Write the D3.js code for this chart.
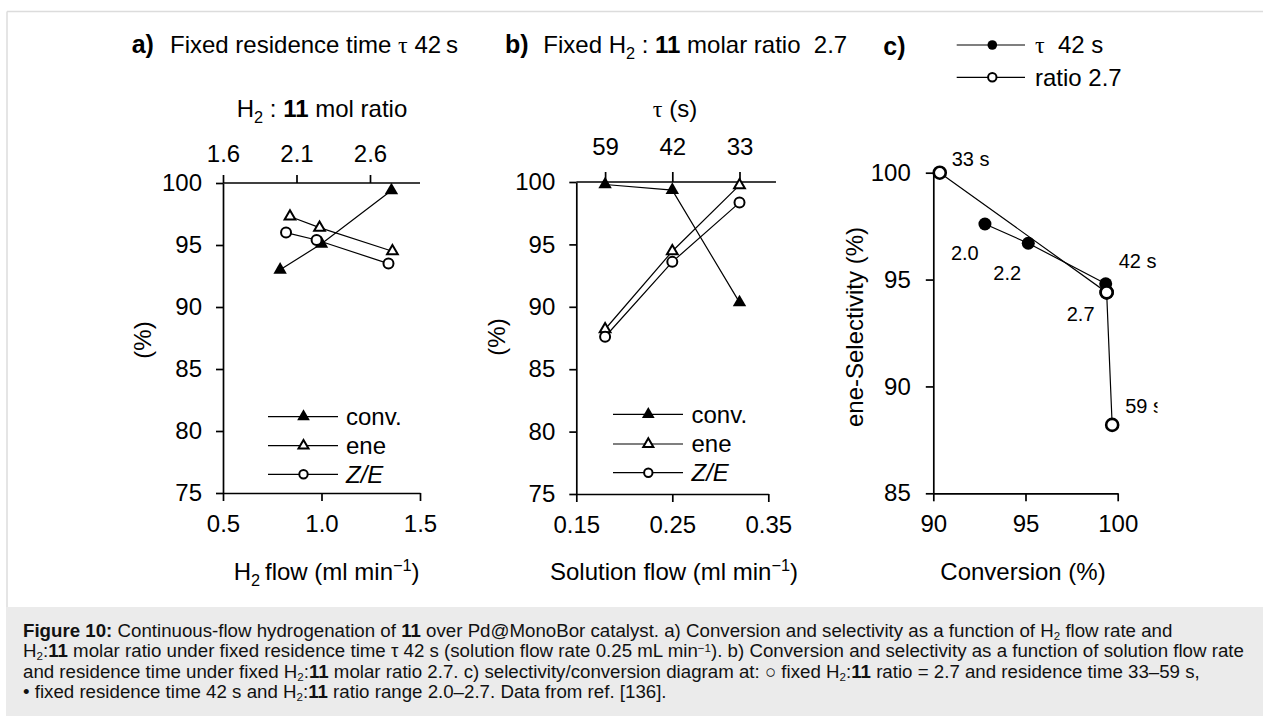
<!DOCTYPE html>
<html><head><meta charset="utf-8">
<script src="https://cdn.jsdelivr.net/npm/d3@7"></script>
<style>
html,body{margin:0;padding:0;background:#fff;}
svg{display:block;}
</style></head>
<body>
<script>
// ---------- DATA ----------
// Panel a: fixed residence time 42 s (x = H2 flow, ml/min)
const convA_x = [0.79, 1.0, 1.355];
const convA_y = [93.0, 95.1, 99.4];
const eneA_x = [0.84, 0.99, 1.36];
const eneA_y = [97.3, 96.4, 94.5];
const zeA_x = [0.82, 0.975, 1.34];
const zeA_y = [96.0, 95.4, 93.5];
const topTicksA = [1.6, 2.1, 2.6];           // H2:11 mol ratio
const bottomTicksA = [0.5, 1.0, 1.5];
// Panel b: fixed H2:11 ratio 2.7 (x = solution flow, ml/min)
const flowB = [0.18, 0.25, 0.32];
const convB = [99.8, 99.35, 90.35];
const eneB = [88.2, 94.45, 99.75];
const zeB = [87.6, 93.6, 98.35];
const tauLabelsB = ["59", "42", "33"];        // tau (s)
const bottomTicksB = [0.15, 0.25, 0.35];
const yTicksAB = [75, 80, 85, 90, 95, 100];
// Panel c: selectivity vs conversion
const tauFixConv = [92.8, 95.15, 99.35];      // tau 42 s, varying ratio
const tauFixSel = [97.6, 96.7, 94.8];
const tauFixLabels = ["2.0", "2.2", "2.7"];
const ratioFixConv = [90.35, 99.4, 99.7];     // ratio 2.7, varying tau
const ratioFixSel = [100.0, 94.4, 88.2];
const ratioFixLabels = ["33 s", "42 s", "59 s"];
const xTicksC = [90, 95, 100];
const yTicksC = [85, 90, 95, 100];
const legendAB = ["conv.", "ene", "Z/E"];
const legendC = ["τ  42 s", "ratio 2.7"];

// ---------- SETUP ----------
const W = 1263, H = 716;
const FONT = "'Liberation Sans', Arial, Helvetica, sans-serif";
const SERIF = "'Liberation Serif', 'DejaVu Serif', serif";
const FS = 24;
const svg = d3.select("body").append("svg").attr("width", W).attr("height", H)
  .attr("font-family", FONT).attr("font-size", FS);

// frame + caption background
svg.append("rect").attr("x", 0).attr("y", 0).attr("width", W).attr("height", H).attr("fill", "#fff");
svg.append("line").attr("x1", 7).attr("x2", W).attr("y1", 11.5).attr("y2", 11.5).attr("stroke", "#dcdcdc").attr("stroke-width", 1.5);
svg.append("line").attr("x1", 7).attr("x2", 7).attr("y1", 11.5).attr("y2", 607).attr("stroke", "#dcdcdc").attr("stroke-width", 1.5);
svg.append("rect").attr("x", 6).attr("y", 607).attr("width", W - 6).attr("height", H - 607).attr("fill", "#ebebeb");

function rich(t, parts, base, opt) {
  opt = opt || {};
  const subK = opt.sub != null ? opt.sub : 0.27;
  const supK = opt.sup != null ? opt.sup : 0.38;
  const szK = opt.size != null ? opt.size : 0.68;
  let shift = 0;
  parts.forEach(p => {
    const ts = t.append("tspan").text(p.t);
    const target = p.sub ? subK * base : p.sup ? -supK * base : 0;
    const dy = target - shift; shift = target;
    if (dy) ts.attr("dy", dy);
    if (p.sub || p.sup) ts.attr("font-size", base * szK);
    if (p.b) ts.attr("font-weight", "bold");
    if (p.i) ts.attr("font-style", "italic");
    if (p.serif) ts.attr("font-family", SERIF);
  });
  return t;
}
function txt(x, y, anchor, size) {
  return svg.append("text").attr("x", x).attr("y", y).attr("text-anchor", anchor || "start")
    .attr("font-size", size || FS).attr("fill", "#000");
}
function styleAxis(g, sw) {
  g.selectAll("path,line").attr("stroke", "#000").attr("stroke-width", sw || 1.7);
  g.selectAll("text").attr("font-family", FONT).attr("font-size", FS).attr("fill", "#000");
}

// symbols
const triFilled = d3.symbol(d3.symbolTriangle, 78)();
const triOpen = d3.symbol(d3.symbolTriangle, 50)();
function drawSeries(g, xs, ys, sx, sy, kind) {
  const pts = xs.map((x, i) => [sx(x), sy(ys[i])]);
  g.append("path").attr("d", d3.line()(pts)).attr("fill", "none").attr("stroke", "#000").attr("stroke-width", 1.2);
  pts.forEach(p => drawMarker(g, p[0], p[1], kind));
}
function drawMarker(g, x, y, kind, small) {
  if (kind === "triF") g.append("path").attr("d", small ? d3.symbol(d3.symbolTriangle, 70)() : triFilled)
    .attr("transform", `translate(${x},${y})`).attr("fill", "#000");
  else if (kind === "triO") g.append("path").attr("d", small ? d3.symbol(d3.symbolTriangle, 44)() : triOpen)
    .attr("transform", `translate(${x},${y})`).attr("fill", "#fff").attr("stroke", "#000").attr("stroke-width", 2);
  else if (kind === "circO") g.append("circle").attr("cx", x).attr("cy", y).attr("r", small ? 4.2 : 5)
    .attr("fill", "#fff").attr("stroke", "#000").attr("stroke-width", 2);
  else if (kind === "circF") g.append("circle").attr("cx", x).attr("cy", y).attr("r", small ? 4.8 : 6.5).attr("fill", "#000");
  else if (kind === "circOc") g.append("circle").attr("cx", x).attr("cy", y).attr("r", small ? 4.2 : 6)
    .attr("fill", "#fff").attr("stroke", "#000").attr("stroke-width", small ? 2 : 2.6);
}
function legend(x1, x2, xm, xt, ys, kinds, labels) {
  const g = svg.append("g");
  ys.forEach((y, i) => {
    g.append("line").attr("x1", x1).attr("x2", x2).attr("y1", y).attr("y2", y).attr("stroke", "#000").attr("stroke-width", 1.2);
    drawMarker(g, xm, y, kinds[i], true);
    const t = g.append("text").attr("x", xt).attr("y", y).attr("dy", "0.35em").attr("font-size", FS).text(labels[i]);
    if (labels[i] === "Z/E") t.attr("font-style", "italic");
  });
}

// ---------- PANEL A ----------
const xA = d3.scaleLinear().domain([0.5, 1.5]).range([223, 420]);
const yA = d3.scaleLinear().domain([75, 100]).range([493, 183]);
const topA = d3.scaleLinear().domain([1.6, 2.6]).range([223, 370]);
svg.append("g").attr("transform", "translate(0,493)")
  .call(d3.axisBottom(xA).tickValues(bottomTicksA).tickFormat(d3.format(".1f")).tickSize(8).tickSizeOuter(0).tickPadding(14))
  .call(styleAxis);
svg.append("g").attr("transform", "translate(223,0)")
  .call(d3.axisLeft(yA).tickValues(yTicksAB).tickSize(7).tickSizeOuter(0).tickPadding(14))
  .call(styleAxis);
svg.append("g").attr("transform", "translate(0,183)")
  .call(d3.axisTop(topA).tickValues(topTicksA).tickFormat(d3.format(".1f")).tickSize(8).tickSizeOuter(0).tickPadding(13))
  .call(g => g.select(".domain").remove())
  .call(styleAxis);
svg.append("line").attr("x1", xA(0.5)).attr("x2", xA(1.5)).attr("y1", yA(100)).attr("y2", yA(100))
  .attr("stroke", "#000").attr("stroke-width", 1.7);
const gA = svg.append("g");
drawSeries(gA, convA_x, convA_y, xA, yA, "triF");
drawSeries(gA, eneA_x, eneA_y, xA, yA, "triO");
drawSeries(gA, zeA_x, zeA_y, xA, yA, "circO");
legend(268, 338, 303.5, 346, [416.7, 445.7, 474.3], ["triF", "triO", "circO"], legendAB);

// ---------- PANEL B ----------
const xB = d3.scaleLinear().domain([0.15, 0.35]).range([576.3, 768.3]);
const yB = d3.scaleLinear().domain([75, 100]).range([494, 182]);
svg.append("g").attr("transform", "translate(0,494)")
  .call(d3.axisBottom(xB).tickValues(bottomTicksB).tickFormat(d3.format(".2f")).tickSize(8).tickSizeOuter(0).tickPadding(14))
  .call(styleAxis);
svg.append("g").attr("transform", "translate(576.3,0)")
  .call(d3.axisLeft(yB).tickValues(yTicksAB).tickSize(7).tickSizeOuter(0).tickPadding(14))
  .call(styleAxis);
svg.append("g").attr("transform", "translate(0,182)")
  .call(d3.axisTop(xB).tickValues(flowB).tickFormat((d, i) => tauLabelsB[i]).tickSize(10).tickSizeOuter(0).tickPadding(17))
  .call(g => g.select(".domain").remove())
  .call(styleAxis);
svg.append("line").attr("x1", xB(0.15)).attr("x2", xB(0.358)).attr("y1", yB(100)).attr("y2", yB(100))
  .attr("stroke", "#000").attr("stroke-width", 1.7);
const gB = svg.append("g");
drawSeries(gB, flowB, convB, xB, yB, "triF");
drawSeries(gB, flowB, eneB, xB, yB, "triO");
drawSeries(gB, flowB, zeB, xB, yB, "circO");
legend(613, 683, 648.3, 691.5, [414.3, 444, 472.7], ["triF", "triO", "circO"], legendAB);

// ---------- PANEL C ----------
const xC = d3.scaleLinear().domain([90, 100]).range([933.3, 1117.7]);
const yC = d3.scaleLinear().domain([85, 100]).range([493.3, 172.7]);
svg.append("g").attr("transform", "translate(0,493.3)")
  .call(d3.axisBottom(xC).tickValues(xTicksC).tickSize(8).tickSizeOuter(0).tickPadding(14))
  .call(styleAxis);
svg.append("g").attr("transform", "translate(933.3,0)")
  .call(d3.axisLeft(yC).tickValues(yTicksC).tickSize(7.5).tickSizeOuter(0).tickPadding(15))
  .call(styleAxis);
const gC = svg.append("g");
drawSeries(gC, ratioFixConv, ratioFixSel, xC, yC, "circOc");
drawSeries(gC, tauFixConv, tauFixSel, xC, yC, "circF");
// re-draw open markers that are partly overlapped
ratioFixConv.forEach((c, i) => { if (i === 1) drawMarker(gC, xC(c), yC(ratioFixSel[i]), "circOc"); });
// point labels (clipped at the right)
svg.append("clipPath").attr("id", "clipC").append("rect").attr("x", 840).attr("y", 100).attr("width", 317.5).attr("height", 420);
const gL = svg.append("g").attr("clip-path", "url(#clipC)").attr("font-size", 20);
const offR = [[12, -7], [12, -24], [13, -12]];
ratioFixLabels.forEach((l, i) => gL.append("text").attr("x", xC(ratioFixConv[i]) + offR[i][0]).attr("y", yC(ratioFixSel[i]) + offR[i][1]).text(l));
const offT = [[-34, 36], [-35, 37], [-39, 37]];
tauFixLabels.forEach((l, i) => gL.append("text").attr("x", xC(tauFixConv[i]) + offT[i][0]).attr("y", yC(tauFixSel[i]) + offT[i][1]).text(l));
// legend c
(function () {
  const g = svg.append("g");
  const ys = [45, 77.3];
  const kinds = ["circF", "circOc"];
  ys.forEach((y, i) => {
    g.append("line").attr("x1", 956.7).attr("x2", 1025).attr("y1", y).attr("y2", y).attr("stroke", "#000").attr("stroke-width", 1.2);
    drawMarker(g, 992.3, y, kinds[i], true);
  });
  const t1 = g.append("text").attr("x", 1035).attr("y", 53.3).attr("font-size", FS);
  rich(t1, [{ t: "τ", serif: true }, { t: "\u00a0 42 s" }], FS);
  g.append("text").attr("x", 1035).attr("y", 86).attr("font-size", FS).text(legendC[1]);
})();

// ---------- TITLES & AXIS TITLES ----------
txt(131.7, 53, "start", 25).attr("font-weight", "bold").text("a)");
rich(txt(170, 53), [{ t: "Fixed residence time " }, { t: "τ", serif: true }, { t: " 42\u2009s" }], FS);
txt(505, 53, "start", 25).attr("font-weight", "bold").text("b)");
rich(txt(543.3, 53), [{ t: "Fixed H" }, { t: "2", sub: true }, { t: " : " }, { t: "11", b: true }, { t: " molar ratio\u00a0 2.7" }], FS);
txt(883.3, 55, "start", 25).attr("font-weight", "bold").text("c)");

rich(txt(322, 117, "middle"), [{ t: "H" }, { t: "2", sub: true }, { t: " : " }, { t: "11", b: true }, { t: " mol ratio" }], FS);
rich(txt(675, 117, "middle"), [{ t: "τ", serif: true }, { t: " (s)" }], FS);

rich(txt(326.7, 580, "middle"), [{ t: "H" }, { t: "2", sub: true }, { t: "\u2009flow (ml min" }, { t: "−1", sup: true }, { t: ")" }], FS);
rich(txt(674, 580, "middle"), [{ t: "Solution flow (ml min" }, { t: "−1", sup: true }, { t: ")" }], FS);
txt(1023, 580, "middle").text("Conversion (%)");

svg.append("text").attr("transform", "translate(151,340) rotate(-90)").attr("text-anchor", "middle").attr("font-size", FS).text("(%)");
svg.append("text").attr("transform", "translate(505,337) rotate(-90)").attr("text-anchor", "middle").attr("font-size", FS).text("(%)");
svg.append("text").attr("transform", "translate(863,327) rotate(-90)").attr("text-anchor", "middle").attr("font-size", FS).text("ene-Selectivity (%)");

// ---------- CAPTION ----------
const CFS = 18.7;
const capLines = [
  [{ t: "Figure 10:", b: true }, { t: " Continuous-flow hydrogenation of " }, { t: "11", b: true }, { t: " over Pd@MonoBor catalyst. a) Conversion and selectivity as a function of H" }, { t: "2", sub: true }, { t: " flow rate and" }],
  [{ t: "H" }, { t: "2", sub: true }, { t: ":" }, { t: "11", b: true }, { t: " molar ratio under fixed residence time τ 42 s (solution flow rate 0.25 mL min" }, { t: "−1", sup: true }, { t: "). b) Conversion and selectivity as a function of solution flow rate" }],
  [{ t: "and residence time under fixed H" }, { t: "2", sub: true }, { t: ":" }, { t: "11", b: true }, { t: " molar ratio 2.7. c) selectivity/conversion diagram at: ○ fixed H" }, { t: "2", sub: true }, { t: ":" }, { t: "11", b: true }, { t: " ratio = 2.7 and residence time 33–59 s," }],
  [{ t: "• fixed residence time 42 s and H" }, { t: "2", sub: true }, { t: ":" }, { t: "11", b: true }, { t: " ratio range 2.0–2.7. Data from ref. [136]." }]
];
const capY = [636.5, 657, 677.5, 698];
capLines.forEach((parts, i) => {
  rich(txt(23, capY[i], "start", CFS).attr("fill", "#111"), parts, CFS, { sub: 0.17, sup: 0.28, size: 0.62 });
});
</script>
</body></html>
